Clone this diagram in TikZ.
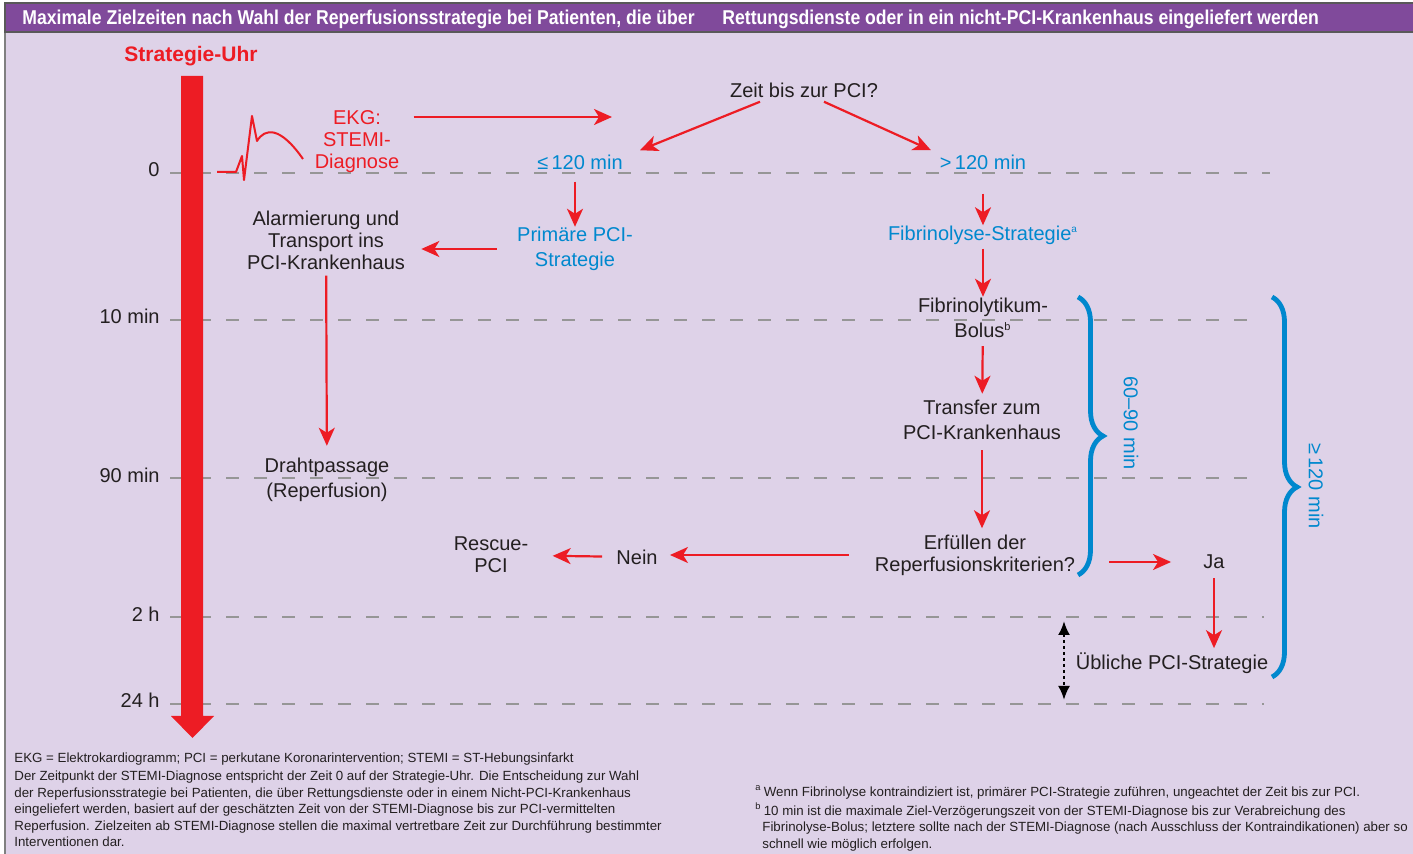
\documentclass[tikz,border=0pt]{standalone}
\usepackage{fontspec}
\setmainfont{Liberation Sans}
\newfontfamily\titlefont[FakeStretch=0.88]{Liberation Sans}
\usetikzlibrary{arrows.meta,positioning,decorations.pathreplacing}

\definecolor{bgviolet}{RGB}{222,210,232}
\definecolor{barviolet}{RGB}{128,74,155}
\definecolor{clockred}{RGB}{237,28,36}
\definecolor{stratblue}{RGB}{0,136,206}
\definecolor{txtgray}{RGB}{35,31,32}
\definecolor{linegray}{RGB}{150,150,150}

\begin{document}
\begin{tikzpicture}[x=0.5pt,y=-0.5pt,
  every node/.style={inner sep=2pt,text=txtgray,align=center,font=\fontsize{10}{11}\selectfont},
  loose/.style={font=\fontsize{10}{12.5}\selectfont},
  strat/.style={text=stratblue},
  alert/.style={text=clockred},
  tlabel/.style={anchor=east,inner sep=0pt},
  arr/.style={draw=clockred,line width=1.1pt,-{Stealth[length=9pt,width=8pt,inset=2.5pt]}},
  tick/.style={draw=linegray,line width=1.4pt,dash pattern=on 6.5pt off 7.5pt},
  curly/.style={draw=stratblue,line width=2.4pt,decorate,decoration={brace,amplitude=12.5pt}},
  note/.style={anchor=north west,align=left,inner sep=0pt,font=\fontsize{6.65}{8.25}\selectfont}]
\useasboundingbox (0,0) rectangle (1413,854);
\fill[white] (0,0) rectangle (1413,854);
\filldraw[fill=bgviolet,draw=gray,line width=0.6pt] (5,3) rectangle (1420,860);
\filldraw[fill=barviolet,draw=gray!70!black,line width=0.6pt] (5,3) rectangle (1420,32);
\node[anchor=west,text=white,font=\titlefont\bfseries\fontsize{10}{11}\selectfont] (head1) at (18,19)
  {Maximale Zielzeiten nach Wahl der Reperfusionsstrategie bei Patienten, die über};
\node[anchor=west,text=white,font=\titlefont\bfseries\fontsize{10}{11}\selectfont] (head2) at (718,19)
  {Rettungsdienste oder in ein nicht-PCI-Krankenhaus eingeliefert werden};

\foreach \y/\xe in {173/1270,320/1260,478/1260,617/1264,704/1264}
  \draw[tick] (170,\y) -- (\xe,\y);

\fill[clockred] (181,76) -- (203,76) -- (203,716) -- (214,716) -- (192.5,738) -- (171,716) -- (181,716) -- cycle;
\node[alert,font=\bfseries\fontsize{10.5}{12}\selectfont] (uhr) at (191,56) {Strategie-Uhr};

\node[tlabel] (t0) at (160,170) {0};
\node[tlabel] (t10) at (160,316) {10 min};
\node[tlabel] (t90) at (160,475) {90 min};
\node[tlabel] (t2) at (160,614) {2 h};
\node[tlabel] (t24) at (160,700) {24 h};

\draw[clockred,line width=1pt,line join=round] (217,172) -- (236,172) -- (242,156) -- (244,180)
  -- (252,116) -- (257,141) .. controls (265,128) and (280,126) .. (303,159);

\node[alert] (ekg) at (357,142) {EKG:\\STEMI-\\Diagnose};
\node (zeit) at (804,90) {Zeit bis zur PCI?};
\coordinate (split) at (612,117);
\node[strat] (le) at (580,162) {≤\,120 min};
\node[strat] (gt) at (983,162) {>\,120 min};
\node[strat,loose] (prim) at (575,249) {Primäre PCI-\\Strategie};
\node (alarm) at (326,240) {Alarmierung und\\Transport ins\\PCI-Krankenhaus};
\node[loose] (draht) at (327,480) {Drahtpassage\\(Reperfusion)};
\node[strat] (fib) at (983,235) {Fibrinolyse-Strategie\textsuperscript{\fontsize{5}{5}\selectfont a}};
\node[loose] (bolus) at (983,318) {Fibrinolytikum-\\Bolus\textsuperscript{\fontsize{5.5}{5}\selectfont b}};
\node[loose] (transfer) at (982,420) {Transfer zum\\PCI-Krankenhaus};
\node (crit) at (975,555) {Erfüllen der\\Reperfusionskriterien?};
\node (nein) at (637,557) {Nein};
\node (rescue) at (491,555) {Rescue-\\PCI};
\node (ja) at (1214,562) {Ja};
\node (ublich) at (1172,663) {Übliche PCI-Strategie};

\draw[arr,shorten <=5pt] (ekg.east |- split) -- (split);
\draw[arr] ([xshift=-22pt]zeit.south) -- ([xshift=30pt]le.north);
\draw[arr] ([xshift=10pt]zeit.south) -- ([xshift=-26pt]gt.north);
\draw[arr,shorten <=4pt,shorten >=-2pt] (le.south -| prim) -- (prim);
\draw[arr,shorten <=8pt,shorten >=6pt] (prim) -- (prim -| alarm.east);
\draw[arr,shorten <=1pt,shorten >=4pt] (alarm) -- (draht);
\draw[arr,shorten <=10pt,shorten >=-2pt] (gt) -- (fib);
\draw[arr,shorten >=-1.5pt] (fib) -- (bolus);
\draw[arr,shorten <=2pt,shorten >=1pt] (bolus) -- (transfer);
\draw[arr,shorten <=3pt,shorten >=1pt] (transfer.south) -- (transfer.south |- crit.north);
\draw[arr,shorten <=11pt,shorten >=4pt] (crit) -- (crit -| nein.east);
\draw[arr,shorten <=5pt,shorten >=10pt] (nein) -- (rescue);
\draw[arr,shorten <=15pt,shorten >=14pt] (crit.east |- ja) -- (ja);
\draw[arr,shorten <=2.5pt] (ja) -- (ja |- ublich.north);

\coordinate (h2) at (1064,617);
\coordinate (h24) at (1064,704);
\draw[line width=1.2pt,dash pattern=on 1.5pt off 1.5pt,{Latex[length=7pt,width=6pt]}-{Latex[length=7pt,width=6pt]},shorten <=2pt,shorten >=2pt] (h2) -- (h24);

\draw[curly] (1078,297) -- (1078,575);
\draw[curly] (1272,297) -- (1272,677);
\node[strat,rotate=-90] (span1) at (1131,423) {60–90 min};
\node[strat,rotate=-90] (span2) at (1316,486) {≥\,120 min};

\node[note] (legend) at (14,752) {EKG = Elektrokardiogramm; PCI = perkutane Koronarintervention; STEMI = ST-Hebungsinfarkt\\[1pt]
Der Zeitpunkt der STEMI-Diagnose entspricht der Zeit 0 auf der Strategie-Uhr. Die Entscheidung zur Wahl\\
der Reperfusionsstrategie bei Patienten, die über Rettungsdienste oder in einem Nicht-PCI-Krankenhaus\\
eingeliefert werden, basiert auf der geschätzten Zeit von der STEMI-Diagnose bis zur PCI-vermittelten\\
Reperfusion. Zielzeiten ab STEMI-Diagnose stellen die maximal vertretbare Zeit zur Durchführung bestimmter\\
Interventionen dar.};
\node[note] (fnotes) at (755,785) {\textsuperscript{a}\,Wenn Fibrinolyse kontraindiziert ist, primärer PCI-Strategie zuführen, ungeachtet der Zeit bis zur PCI.\\[1.2pt]
\textsuperscript{b}\,10 min ist die maximale Ziel-Verzögerungszeit von der STEMI-Diagnose bis zur Verabreichung des\\
\hspace*{3.5pt}Fibrinolyse-Bolus; letztere sollte nach der STEMI-Diagnose (nach Ausschluss der Kontraindikationen) aber so\\
\hspace*{3.5pt}schnell wie möglich erfolgen.};
\end{tikzpicture}
\end{document}
